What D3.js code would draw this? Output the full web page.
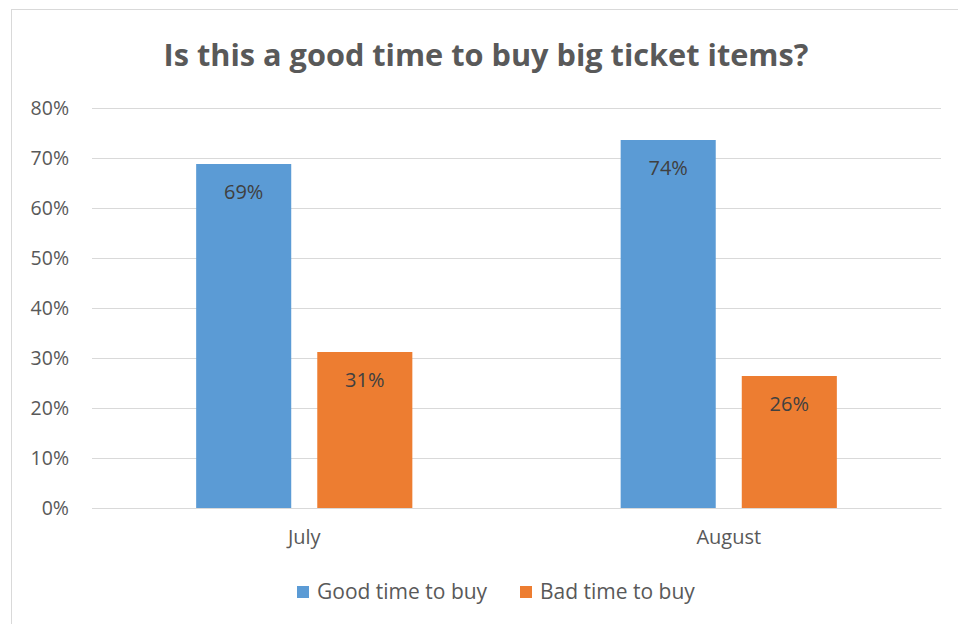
<!DOCTYPE html>
<html lang="en">
<head>
    <meta charset="UTF-8">
    <title>Is this a good time to buy big ticket items?</title>
    <script src="https://d3js.org/d3.v7.min.js"></script>
    <style>
        body { margin: 0; background: #fff; }
        svg { display: block; font-family: "Open Sans", "Noto Sans", sans-serif; }
        svg text { font-family: "Open Sans", "Noto Sans", sans-serif; }
    </style>
</head>
<body>
    <div id="chart"></div>

    <script>
        // Data
        const months = ["July", "August"];
        const seriesNames = ["Good time to buy", "Bad time to buy"];
        const goodValues = [0.688, 0.736];
        const badValues = [0.312, 0.264];
        const valueLabels = [["69%", "31%"], ["74%", "26%"]];
        const yTicks = [0, 0.1, 0.2, 0.3, 0.4, 0.5, 0.6, 0.7, 0.8];

        const colors = ["#5b9bd5", "#ed7d31"];
        const textColor = "#595959";
        const gridColor = "#d9d9d9";

        const W = 958, H = 624;
        const plot = { left: 92, right: 941, top: 108, bottom: 508 };

        const rows = months.map((m, i) => ({
            month: m,
            values: [goodValues[i], badValues[i]],
            labels: valueLabels[i]
        }));

        const svg = d3.select("#chart")
            .append("svg")
            .attr("width", W)
            .attr("height", H);

        // Chart border
        svg.append("rect")
            .attr("x", 11.5).attr("y", 9.5)
            .attr("width", W).attr("height", H)
            .attr("fill", "none")
            .attr("stroke", gridColor)
            .attr("stroke-width", 1);

        // Title
        svg.append("text")
            .attr("x", 486)
            .attr("y", 66)
            .attr("text-anchor", "middle")
            .attr("fill", textColor)
            .attr("font-size", 30.7)
            .attr("font-weight", "bold")
            .text("Is this a good time to buy big ticket items?");

        const x0 = d3.scaleBand()
            .domain(months)
            .range([plot.left, plot.right]);

        const x1 = d3.scaleBand()
            .domain(seriesNames)
            .range([0, x0.bandwidth()])
            .paddingInner(0.215)
            .paddingOuter(0.86);

        const y = d3.scaleLinear()
            .domain([0, 0.8])
            .range([plot.bottom, plot.top]);

        // Gridlines + y labels
        const yAxis = svg.append("g")
            .attr("transform", `translate(${plot.left},0)`)
            .call(d3.axisLeft(y)
                .tickValues(yTicks)
                .tickFormat(d3.format(".0%"))
                .tickSize(-(plot.right - plot.left))
                .tickPadding(23))
            .attr("font-family", null)
            .attr("font-size", null);
        yAxis.select(".domain").remove();
        yAxis.selectAll(".tick line")
            .attr("stroke", gridColor)
            .attr("stroke-width", 1);
        yAxis.selectAll(".tick text")
            .attr("fill", textColor)
            .attr("font-size", 19.5);

        // Bars
        const groups = svg.selectAll(".month")
            .data(rows)
            .enter()
            .append("g")
            .attr("class", "month")
            .attr("transform", d => `translate(${x0(d.month)},0)`);

        groups.selectAll("rect")
            .data(d => d.values.map((v, j) => ({ series: seriesNames[j], value: v, label: d.labels[j], j })))
            .enter()
            .append("rect")
            .attr("x", d => x1(d.series))
            .attr("y", d => y(d.value))
            .attr("width", x1.bandwidth())
            .attr("height", d => y(0) - y(d.value))
            .attr("fill", d => colors[d.j]);

        groups.selectAll(".vlabel")
            .data(d => d.values.map((v, j) => ({ series: seriesNames[j], value: v, label: d.labels[j] })))
            .enter()
            .append("text")
            .attr("class", "vlabel")
            .attr("x", d => x1(d.series) + x1.bandwidth() / 2)
            .attr("y", d => y(d.value) + 35)
            .attr("text-anchor", "middle")
            .attr("fill", "#404040")
            .attr("font-size", 20)
            .text(d => d.label);

        // X axis
        const xAxis = svg.append("g")
            .attr("transform", `translate(0,${plot.bottom})`)
            .call(d3.axisBottom(x0).tickSize(0).tickPadding(22))
            .attr("font-family", null)
            .attr("font-size", null);
        xAxis.select(".domain")
            .attr("stroke", gridColor);
        xAxis.selectAll(".tick text")
            .attr("fill", textColor)
            .attr("font-size", 20);

        // Legend
        const legendX = [297, 520];
        const legend = svg.selectAll(".legend")
            .data(seriesNames)
            .enter()
            .append("g")
            .attr("class", "legend")
            .attr("transform", (d, i) => `translate(${legendX[i]},592)`);
        legend.append("rect")
            .attr("x", 0).attr("y", -6)
            .attr("width", 12).attr("height", 12)
            .attr("fill", (d, i) => colors[i]);
        legend.append("text")
            .attr("x", 20)
            .attr("y", 0)
            .attr("dy", "0.35em")
            .attr("fill", textColor)
            .attr("font-size", 21)
            .text(d => d);
    </script>
</body>
</html>
